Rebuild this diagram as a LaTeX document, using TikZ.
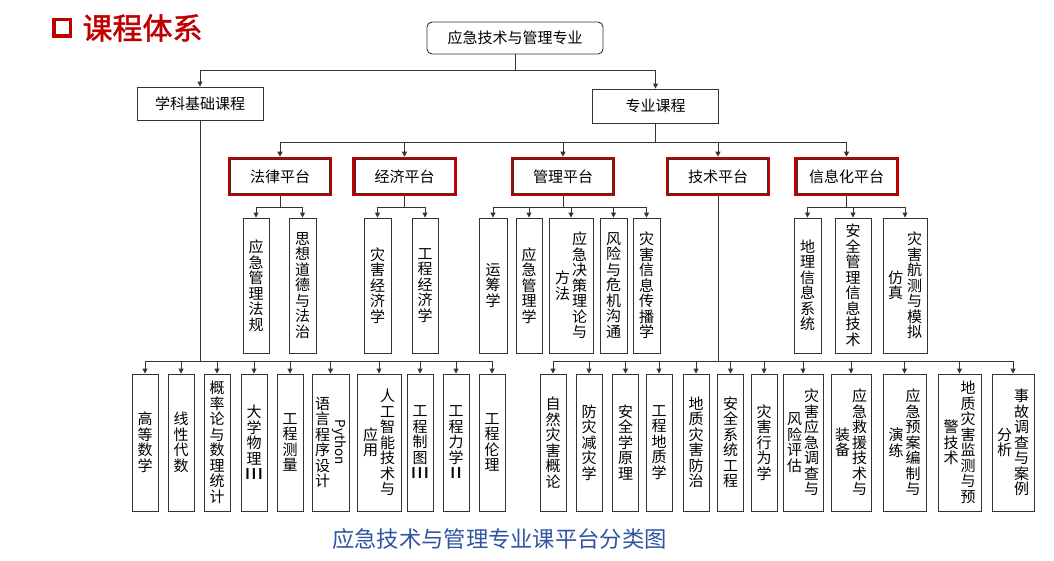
\documentclass[tikz,border=0pt]{standalone}
\usepackage{fontspec}
\newfontfamily\cjk{Noto Sans CJK SC}
\newfontfamily\cjkb[FakeBold=1.6]{Noto Sans CJK SC}
\usetikzlibrary{arrows.meta}
\definecolor{tred}{HTML}{C00000}
\definecolor{capblue}{HTML}{2F55A0}
\definecolor{lnc}{HTML}{333333}
\newcommand\vs[1]{\ensuremath{\vcenter{\lineskiplimit=-\maxdimen\lineskip=0pt\baselineskip=15.5pt\let\\\cr
  \halign{\hfil##\hfil\cr#1\crcr}}}}
\newcommand\pyth{{\fontsize{13.5}{15}\selectfont\rotatebox{-90}{Python}}}
\newcommand\rmIII{\scalebox{1.45}[1]{Ⅲ}}
\newcommand\rmII{\scalebox{1.45}[1]{Ⅱ}}
\tikzset{
  conn/.style={draw=lnc, line width=0.9pt},
  arr/.style={conn, -{Triangle[length=5pt,width=5pt]}},
  hbox/.style={draw=lnc, line width=0.9pt, inner sep=0pt, minimum width=126pt, minimum height=33pt,
    font=\cjk\fontsize{15}{18}\selectfont},
  plat/.style={draw=tred, line width=2.6pt, inner sep=0pt, minimum width=102pt, minimum height=37pt,
    font=\cjk\fontsize{15}{18}\selectfont,
    path picture={\draw[lnc, line width=0.6pt]
      ([xshift=1.6pt,yshift=-1.6pt]path picture bounding box.north west) rectangle
      ([xshift=-1.6pt,yshift=1.6pt]path picture bounding box.south east);}},
  vbox/.style={draw=lnc, line width=0.9pt, inner sep=0pt, minimum width=26pt, minimum height=135pt,
    font=\cjk\fontsize{15}{15.5}\selectfont},
  bbox/.style={vbox, minimum height=137pt}
}
\begin{document}
\begin{tikzpicture}[x=1pt,y=-1pt]
\useasboundingbox (0,0) rectangle (1054,560);
% title
\node[draw=tred, line width=3.5pt, minimum size=16.5pt, inner sep=0pt] (ticon) at (62,27.5) {};
\node[text=tred, font=\cjkb\fontsize{30}{32}\selectfont, inner sep=0pt] (title) at (142.5,28) {课程体系};
% top levels
\node[hbox, minimum width=176pt, minimum height=32pt, rounded corners=5pt] (root) at (515,38) {应急技术与管理专业};
\node[hbox] (jc) at (200,103.5) {学科基础课程};
\node[hbox, minimum height=34pt] (zy) at (655.5,106) {专业课程};
% platforms
\node[plat] (fl) at (280,176.5) {法律平台};
\node[plat] (jj) at (404.5,176.5) {经济平台};
\node[plat] (gl) at (563,176.5) {管理平台};
\node[plat] (js) at (718,176.5) {技术平台};
\node[plat] (xx) at (846.5,176.5) {信息化平台};
% middle row
\node[vbox] (fl1) at (256,285.5) {\vs{应\\急\\管\\理\\法\\规}};
\node[vbox, minimum width=27pt] (fl2) at (302.5,285.5) {\vs{思\\想\\道\\德\\与\\法\\治}};
\node[vbox, minimum width=27pt] (jj1) at (377.5,285.5) {\vs{灾\\害\\经\\济\\学}};
\node[vbox] (jj2) at (425,285.5) {\vs{工\\程\\经\\济\\学}};
\node[vbox, minimum width=28pt] (gl1) at (493,285.5) {\vs{运\\筹\\学}};
\node[vbox] (gl2) at (529,285.5) {\vs{应\\急\\管\\理\\学}};
\node[vbox, minimum width=44pt] (gl3) at (571,285.5) {\vs{方\\法}\hspace{2pt}\vs{应\\急\\决\\策\\理\\论\\与}};
\node[vbox, minimum width=27pt] (gl4) at (613.5,285.5) {\vs{风\\险\\与\\危\\机\\沟\\通}};
\node[vbox, minimum width=27pt] (gl5) at (646.5,285.5) {\vs{灾\\害\\信\\息\\传\\播\\学}};
\node[vbox, minimum width=27pt] (xx1) at (807.5,285.5) {\vs{地\\理\\信\\息\\系\\统}};
\node[vbox, minimum width=36pt] (xx2) at (853,285.5) {\vs{安\\全\\管\\理\\信\\息\\技\\术}};
\node[vbox, minimum width=44pt] (xx3) at (905,285.5) {\vs{仿\\真}\hspace{4pt}\vs{灾\\害\\航\\测\\与\\模\\拟}};
% bottom row, basic courses
\node[bbox] (a1) at (145,442.5) {\vs{高\\等\\数\\学}};
\node[bbox] (a2) at (181,442.5) {\vs{线\\性\\代\\数}};
\node[bbox] (a3) at (217,442.5) {\vs{概\\率\\论\\与\\数\\理\\统\\计}};
\node[bbox] (a4) at (254,442.5) {\vs{大\\学\\物\\理\\\rmIII}};
\node[bbox] (a5) at (290,442.5) {\vs{工\\程\\测\\量}};
\node[bbox, minimum width=37pt] (a6) at (330.5,442.5) {\vs{语\\言\\程\\序\\设\\计}\hspace{2pt}\vs{\pyth}};
\node[bbox, minimum width=44pt] (a7) at (379,442.5) {\vs{应\\用}\hspace{2pt}\vs{人\\工\\智\\能\\技\\术\\与}};
\node[bbox] (a8) at (420,442.5) {\vs{工\\程\\制\\图\\\rmIII}};
\node[bbox] (a9) at (456,442.5) {\vs{工\\程\\力\\学\\\rmII}};
\node[bbox] (a10) at (492,442.5) {\vs{工\\程\\伦\\理}};
% bottom row, professional courses
\node[bbox] (b1) at (553,442.5) {\vs{自\\然\\灾\\害\\概\\论}};
\node[bbox] (b2) at (589,442.5) {\vs{防\\灾\\减\\灾\\学}};
\node[bbox] (b3) at (625.5,442.5) {\vs{安\\全\\学\\原\\理}};
\node[bbox] (b4) at (659,442.5) {\vs{工\\程\\地\\质\\学}};
\node[bbox] (b5) at (696,442.5) {\vs{地\\质\\灾\\害\\防\\治}};
\node[bbox] (b6) at (730.5,442.5) {\vs{安\\全\\系\\统\\工\\程}};
\node[bbox] (b7) at (764,442.5) {\vs{灾\\害\\行\\为\\学}};
\node[bbox, minimum width=40pt] (b8) at (803,442.5) {\vs{风\\险\\评\\估}\hspace{2pt}\vs{灾\\害\\应\\急\\调\\查\\与}};
\node[bbox, minimum width=40pt] (b9) at (851,442.5) {\vs{装\\备}\hspace{2pt}\vs{应\\急\\救\\援\\技\\术\\与}};
\node[bbox, minimum width=43pt] (b10) at (904.5,442.5) {\vs{演\\练}\hspace{2pt}\vs{应\\急\\预\\案\\编\\制\\与}};
\node[bbox, minimum width=43pt] (b11) at (959.5,442.5) {\vs{警\\技\\术}\hspace{2pt}\vs{地\\质\\灾\\害\\监\\测\\与\\预}};
\node[bbox, minimum width=42pt] (b12) at (1013,442.5) {\vs{分\\析}\hspace{2pt}\vs{事\\故\\调\\查\\与\\案\\例}};
% caption
\node[text=capblue, font=\cjk\fontsize{22.3}{25}\selectfont, inner sep=0pt] (cap) at (499.5,539) {应急技术与管理专业课平台分类图};
% bus coordinates
\coordinate (bus0) at (0,70);
\coordinate (bus1) at (0,142);
\coordinate (bus2) at (0,207);
\coordinate (bus3) at (0,361);
% connectors
\foreach \c in {jc,zy} \draw[arr] (root.south) -- (root.south |- bus0) -| (\c.north);
\foreach \c in {fl,jj,gl,js,xx} \draw[arr] (zy.south) -- (zy.south |- bus1) -| (\c.north);
\foreach \c in {fl1,fl2} \draw[arr] (fl.south) -- (fl.south |- bus2) -| (\c.north);
\foreach \c in {jj1,jj2} \draw[arr] (jj.south) -- (jj.south |- bus2) -| (\c.north);
\foreach \c in {gl1,gl2,gl3,gl4,gl5} \draw[arr] (gl.south) -- (gl.south |- bus2) -| (\c.north);
\foreach \c in {xx1,xx2,xx3} \draw[arr] (xx.south) -- (xx.south |- bus2) -| (\c.north);
\foreach \c in {a1,a2,a3,a4,a5,a6,a7,a8,a9,a10} \draw[arr] (jc.south) -- (jc.south |- bus3) -| (\c.north);
\foreach \c in {b1,b2,b3,b4,b5,b6,b7,b8,b9,b10,b11,b12} \draw[arr] (js.south) -- (js.south |- bus3) -| (\c.north);
\end{tikzpicture}
\end{document}
